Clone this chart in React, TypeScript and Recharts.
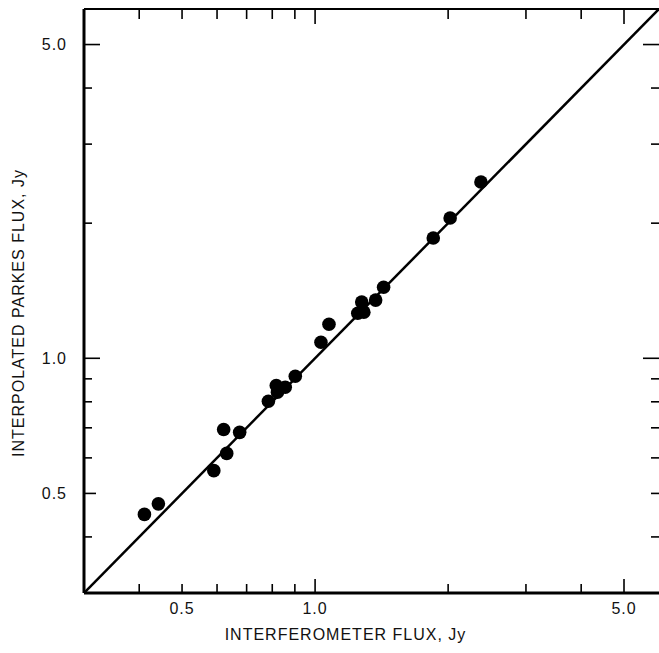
import React from "react";
import { ScatterChart, Scatter, XAxis, YAxis } from "recharts";

const interferometerFlux = [
  0.411, 0.442, 0.59, 0.631, 0.621, 0.675, 0.784, 0.817, 0.822, 0.856, 0.902,
  1.031, 1.075, 1.249, 1.289, 1.275, 1.371, 1.429, 1.851, 2.021, 2.373,
];
const parkesFlux = [
  0.449, 0.474, 0.562, 0.614, 0.694, 0.684, 0.802, 0.87, 0.84, 0.862, 0.912,
  1.086, 1.191, 1.26, 1.267, 1.334, 1.348, 1.44, 1.853, 2.054, 2.47,
];
const equalityLine = [0.3, 6];
const axisDomain = [0.3, 6];
const tickValues = [0.4, 0.5, 0.6, 0.7, 0.8, 0.9, 1, 2, 3, 4, 5];
const labeledTicks = [0.5, 1, 5];
const majorTicks = [1, 5];
const xTitle = "INTERFEROMETER FLUX, Jy";
const yTitle = "INTERPOLATED PARKES FLUX, Jy";

const points = interferometerFlux.map((x, i) => ({ x, y: parkesFlux[i] }));
const lineData = equalityLine.map((v) => ({ x: v, y: v }));

const FONT = "'Liberation Sans', Arial, sans-serif";
const fmt = (v: number) => v.toFixed(1);

const BottomTick = (props: any) => {
  const { x, y, payload } = props;
  const v = payload.value;
  const len = majorTicks.includes(v) ? 14 : 9;
  return (
    <g>
      <line x1={x} y1={y} x2={x} y2={y - len} stroke="#000" strokeWidth={1.6} />
      {labeledTicks.includes(v) && (
        <text x={x} y={y + 21} textAnchor="middle" fontFamily={FONT} fontSize={16} letterSpacing={1} fill="#111">
          {fmt(v)}
        </text>
      )}
    </g>
  );
};

const TopTick = (props: any) => {
  const { x, y, payload } = props;
  const v = payload.value;
  const len = majorTicks.includes(v) ? 15 : 10;
  return <line x1={x} y1={y} x2={x} y2={y + len} stroke="#000" strokeWidth={1.6} />;
};

const LeftTick = (props: any) => {
  const { x, y, payload } = props;
  const v = payload.value;
  const len = majorTicks.includes(v) ? 16 : v === 0.5 ? 12 : 8;
  return (
    <g>
      <line x1={x} y1={y} x2={x + len} y2={y} stroke="#000" strokeWidth={1.6} />
      {labeledTicks.includes(v) && (
        <text x={x - 17} y={y} dy="0.36em" textAnchor="end" fontFamily={FONT} fontSize={16} letterSpacing={1} fill="#111">
          {fmt(v)}
        </text>
      )}
    </g>
  );
};

const RightTick = (props: any) => {
  const { x, y, payload } = props;
  const v = payload.value;
  const len = majorTicks.includes(v) ? 16 : 8;
  return <line x1={x} y1={y} x2={x - len} y2={y} stroke="#000" strokeWidth={1.6} />;
};

const XTitle = (props: any) => {
  const vb = props.viewBox;
  return (
    <text x={vb.x + vb.width / 2 - 26} y={vb.y + 47} textAnchor="middle" fontFamily={FONT} fontSize={16} letterSpacing={1} fill="#111">
      {xTitle}
    </text>
  );
};

const YTitle = (props: any) => {
  const vb = props.viewBox;
  const cx = vb.x + 18;
  const cy = vb.y + vb.height / 2 + 12;
  return (
    <text x={cx} y={cy} transform={`rotate(-90 ${cx} ${cy})`} dy="0.36em" textAnchor="middle" fontFamily={FONT} fontSize={16} letterSpacing={1} fill="#111">
      {yTitle}
    </text>
  );
};

const Dot = (props: any) => <circle cx={props.cx} cy={props.cy} r={6.8} fill="#000" />;
const NoShape = () => <g />;

export default function App() {
  return (
    <div style={{ position: "absolute", left: 0, top: 0, background: "#fff" }}>
      <ScatterChart width={659} height={653} margin={{ top: 8, right: -1, bottom: 0, left: 0 }}>
        <XAxis
          xAxisId="bottom"
          dataKey="x"
          type="number"
          scale="log"
          domain={axisDomain}
          allowDataOverflow
          ticks={tickValues}
          interval={0}
          tickSize={0}
          tickMargin={0}
          tick={(p: any) => <BottomTick {...p} />}
          axisLine={{ stroke: "#000", strokeWidth: 3 }}
          height={60}
          label={(p: any) => <XTitle {...p} />}
        />
        <XAxis
          xAxisId="top"
          orientation="top"
          dataKey="x"
          type="number"
          scale="log"
          domain={axisDomain}
          allowDataOverflow
          ticks={tickValues}
          interval={0}
          tickSize={0}
          tickMargin={0}
          tick={(p: any) => <TopTick {...p} />}
          axisLine={{ stroke: "#000", strokeWidth: 2 }}
          height={1}
        />
        <YAxis
          yAxisId="left"
          dataKey="y"
          type="number"
          scale="log"
          domain={axisDomain}
          allowDataOverflow
          ticks={tickValues}
          interval={0}
          tickSize={0}
          tickMargin={0}
          tick={(p: any) => <LeftTick {...p} />}
          axisLine={{ stroke: "#000", strokeWidth: 3 }}
          width={84}
          label={(p: any) => <YTitle {...p} />}
        />
        <YAxis
          yAxisId="right"
          orientation="right"
          dataKey="y"
          type="number"
          scale="log"
          domain={axisDomain}
          allowDataOverflow
          ticks={tickValues}
          interval={0}
          tickSize={0}
          tickMargin={0}
          tick={(p: any) => <RightTick {...p} />}
          axisLine={false}
          width={1}
        />
        <Scatter
          xAxisId="top"
          yAxisId="right"
          data={lineData}
          line={{ stroke: "#000", strokeWidth: 2.5 }}
          shape={NoShape}
          isAnimationActive={false}
        />
        <Scatter
          xAxisId="bottom"
          yAxisId="left"
          data={points}
          shape={Dot}
          isAnimationActive={false}
        />
      </ScatterChart>
    </div>
  );
}
